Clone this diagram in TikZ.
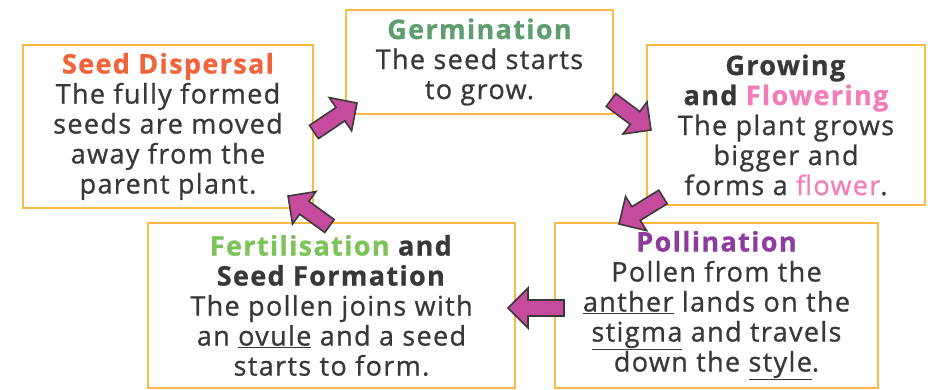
\documentclass[tikz,border=0pt]{standalone}
\usepackage{fontspec}
\setmainfont{Open Sans}[LetterSpace=5, FakeBold=0.8]
\usetikzlibrary{calc}

\definecolor{boxline}{HTML}{FDB945}
\definecolor{bodytext}{HTML}{383838}
\definecolor{arrowfill}{HTML}{C64B9C}
\definecolor{arrowline}{HTML}{3A3A3A}
\definecolor{dispcol}{HTML}{F0643C}
\definecolor{germcol}{HTML}{5E9E6E}
\definecolor{flowcol}{HTML}{F27DB8}
\definecolor{pollcol}{HTML}{8E3C9C}
\definecolor{fertcol}{HTML}{7CC35A}

\tikzset{
    stage/.style={draw=boxline, line width=2pt, fill=white, align=center,
        text=bodytext, inner sep=0pt, font=\fontsize{27}{30}\selectfont},
    arrowbox/.style={fill=arrowfill, draw=arrowline, line width=1.6pt, line join=miter},
}

% fat block arrow from #1 to #2
\newcommand{\cyclearrow}[2]{%
    \draw[arrowbox] let \p1=($(#2)-(#1)$), \p2=(#1), \n1={atan2(\y1,\x1)}, \n2={veclen(\x1,\y1)} in
        [shift={(\p2)}, rotate=\n1]
        (0pt,8pt) -- (\n2-20pt,8pt) -- (\n2-20pt,20pt) -- (\n2,0pt)
        -- (\n2-20pt,-20pt) -- (\n2-20pt,-8pt) -- (0pt,-8pt) -- cycle;
}

\begin{document}
\begin{tikzpicture}[x=1pt, y=-1pt]
\useasboundingbox (0,0) rectangle (940,390);

\node[stage, minimum width=290pt, minimum height=163pt] (disp) at (168,126.5)
    {\textbf{\textcolor{dispcol}{Seed Dispersal}}\\The fully formed\\seeds are moved\\away from the\\parent plant.};
\node[stage, minimum width=267pt, minimum height=104pt] (germ) at (479.5,62)
    {\textbf{\textcolor{germcol}{Germination}}\\The seed starts\\to grow.};
\node[stage, minimum width=278pt, minimum height=160pt] (grow) at (786,125)
    {\textbf{Growing}\\\textbf{and \textcolor{flowcol}{Flowering}}\\The plant grows\\bigger and\\forms a \textcolor{flowcol}{flower}.};
\node[stage, minimum width=323pt, minimum height=165pt] (poll) at (716.5,305.5)
    {\textbf{\textcolor{pollcol}{Pollination}}\\Pollen from the\\\underline{anther} lands on the\\\underline{stigma} and travels\\down the \underline{style}.};
\node[stage, minimum width=367pt, minimum height=165pt] (fert) at (331.5,305.5)
    {\textbf{\textcolor{fertcol}{Fertilisation} and}\\\textbf{Seed Formation}\\The pollen joins with\\an \underline{ovule} and a seed\\starts to form.};

% arrow ends
\coordinate (a1) at ([shift={(0,5.5)}]disp.east);
\coordinate (b1) at ([shift={(12,-12)}]germ.south west);
\coordinate (a2) at ([shift={(-3,-15)}]germ.south east);
\coordinate (b2) at ([shift={(5,5)}]grow.west);
\coordinate (a3) at ([shift={(17,-9)}]grow.south west);
\coordinate (b3) at ([shift={(65,2)}]poll.north west);
\coordinate (a4) at ([shift={(10,2.5)}]poll.west);
\coordinate (b4) at ([shift={(-8,2.5)}]fert.east);
\coordinate (a5) at ([shift={(-2,4)}]fert.north);
\coordinate (b5) at ([shift={(-26,-13)}]disp.south east);

\cyclearrow{a1}{b1}
\cyclearrow{a2}{b2}
\cyclearrow{a3}{b3}
\cyclearrow{a4}{b4}
\cyclearrow{a5}{b5}

\end{tikzpicture}
\end{document}
